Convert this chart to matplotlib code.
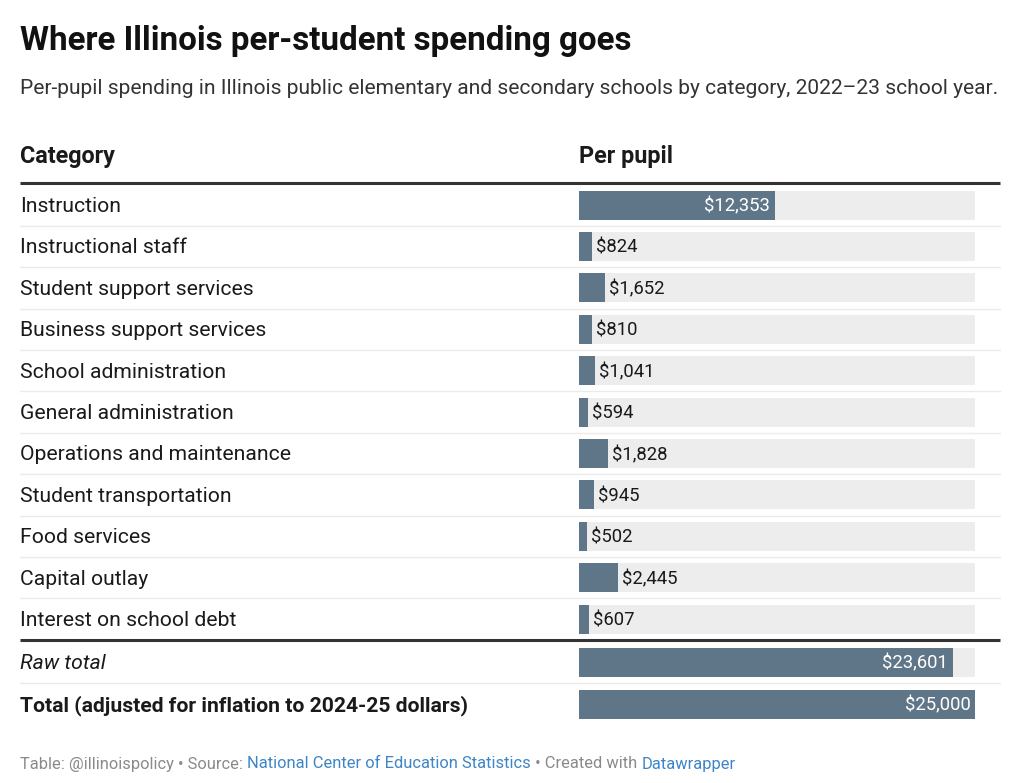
import matplotlib.pyplot as plt

# Data
categories = ['Instruction', 'Instructional staff', 'Student support services',
              'Business support services', 'School administration',
              'General administration', 'Operations and maintenance',
              'Student transportation', 'Food services', 'Capital outlay',
              'Interest on school debt']
per_pupil = [12353, 824, 1652, 810, 1041, 594, 1828, 945, 502, 2445, 607]
total_labels = ['Raw total', 'Total (adjusted for inflation to 2024-25 dollars)']
total_values = [23601, 25000]
bar_max = 25000

title = 'Where Illinois per-student spending goes'
subtitle = ('Per-pupil spending in Illinois public elementary and secondary '
            'schools by category, 2022\u201323 school year.')

plt.rcParams['font.family'] = ['Roboto', 'DejaVu Sans']

W, H = 1024, 783
fig = plt.figure(figsize=(W / 100, H / 100), dpi=100)
fig.patch.set_facecolor('white')

# full-figure axes in pixel coordinates for text and rules
ax = fig.add_axes([0, 0, 1, 1])
ax.set_xlim(0, W)
ax.set_ylim(H, 0)
ax.axis('off')

# bar axes: spans the "Per pupil" column
bx0, bx1 = 579, 975
axb = fig.add_axes([bx0 / W, 0, (bx1 - bx0) / W, 1])
axb.set_xlim(0, bar_max)
axb.set_ylim(H, 0)
axb.axis('off')

bar_color = '#5f7689'
bg_color = '#ededed'
text_color = '#1a1a1a'
body_fs = 15.2
dy = 1.5  # text baseline nudge

ax.text(20, 41, title, fontsize=23.9, fontweight='bold', color='#111111',
        va='center', ha='left')
ax.text(20, 88, subtitle, fontsize=15.17, color='#333333', va='center', ha='left')

ax.text(20, 157, 'Category', fontsize=16.8, fontweight='bold', color=text_color,
        va='center')
ax.text(579, 157, 'Per pupil', fontsize=16.8, fontweight='bold', color=text_color,
        va='center')
ax.plot([20, 1000], [183, 183], color='#333333', lw=2.2, solid_capstyle='butt')

row_y = [205 + i * 41.4 for i in range(len(categories))]
total_y = [662, 704]
bar_h = 29
px = bar_max / (bx1 - bx0)


def value_label(y, v):
    txt = f'${v:,}'
    if v / px > 80:
        axb.text(v - 4.5 * px, y + dy, txt, color='white',
                 fontsize=13.3, ha='right', va='center')
    else:
        axb.text(v + 4 * px, y + dy, txt, color=text_color,
                 fontsize=13.3, ha='left', va='center')


for i, (cat, v) in enumerate(zip(categories, per_pupil)):
    y = row_y[i]
    ax.text(20, y + dy, cat, fontsize=body_fs, color=text_color, va='center')
    axb.barh(y, bar_max, height=bar_h, color=bg_color, left=0)
    axb.barh(y, v, height=bar_h, color=bar_color, left=0)
    value_label(y, v)
    if i < len(categories) - 1:
        ax.plot([20, 1000], [y + 20.7, y + 20.7], color='#ebebeb', lw=1)

ax.plot([20, 1000], [640, 640], color='#333333', lw=2.2, solid_capstyle='butt')

styles = [dict(fontstyle='italic'), dict(fontweight='bold')]
for lab, v, y, st in zip(total_labels, total_values, total_y, styles):
    ax.text(20, y + dy, lab, fontsize=body_fs, color=text_color, va='center', **st)
    axb.barh(y, bar_max, height=bar_h, color=bg_color, left=0)
    axb.barh(y, v, height=bar_h, color=bar_color, left=0)
    value_label(y, v)
ax.plot([20, 1000], [683, 683], color='#ebebeb', lw=1)

# footer
grey = '#8a8a8a'
blue = '#3d85c6'
parts = [('Table: @illinoispolicy \u2022 Source: ', grey),
         ('National Center of Education Statistics', blue),
         (' \u2022 Created with ', grey),
         ('Datawrapper', blue)]
fig.canvas.draw()
renderer = fig.canvas.get_renderer()
x = 20
for s, c in parts:
    t = ax.text(x, 764, s, fontsize=11.9, color=c, va='center', ha='left')
    bb = t.get_window_extent(renderer=renderer)
    x += bb.width

fig.savefig('out.png', dpi=100, facecolor='white')
